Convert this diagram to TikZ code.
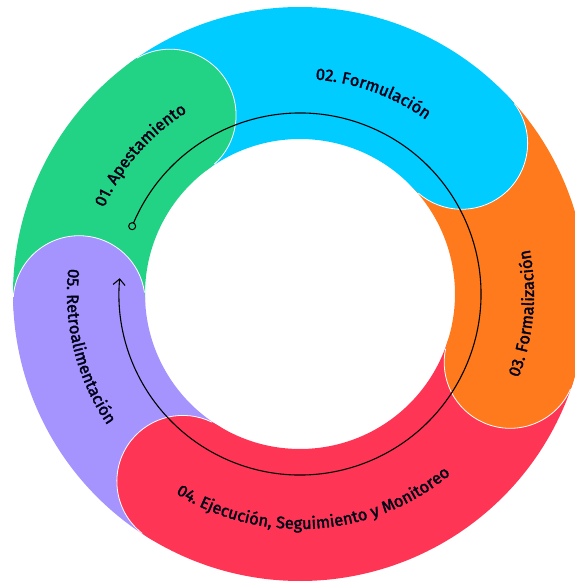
\documentclass[tikz,border=0pt]{standalone}
\usepackage{fontspec}
\setmainfont{Fira Sans}
\newfontfamily\lblfont[FakeBold=2]{Fira Sans}
\usetikzlibrary{arrows.meta,decorations.text,calc}

\definecolor{stepA}{HTML}{23D385}
\definecolor{stepB}{HTML}{00CCFF}
\definecolor{stepC}{HTML}{FF7A1C}
\definecolor{stepD}{HTML}{FF3556}
\definecolor{stepE}{HTML}{A594FD}
\colorlet{lbltext}{black!90!blue}

\tikzset{
  lbl/.style={decorate, decoration={text along path, text align=center, text color=lbltext}},
  cycarrow/.style={line width=1.1pt, -{Straight Barb[length=6pt,width=12pt]}},
}
\newcommand{\lblsize}{\lblfont\fontsize{16.5}{18}\selectfont}

\begin{document}
\begin{tikzpicture}[x=1pt,y=1pt]
    \useasboundingbox (-300,-288) rectangle (275,294);
    \clip (-300,-288) rectangle (275,294);
    % ring pieces
    \foreach \st/\en/\col in {182/126/stepA,126/43/stepB,43/-18/stepC,-18/-122/stepD,-122/-178/stepE}{%
      \fill[\col] (\st:287) arc[start angle=\st, end angle=\en, radius=287]
        -- (\en:155) arc[start angle=\en, end angle=\st, radius=155] -- cycle;}
    % round ends
    \foreach \en/\col in {126/stepA,43/stepB,-18/stepC,-122/stepD,-178/stepE}{%
      \fill[\col] (\en:221) circle[radius=66];
      \draw[white, line width=0.8pt] ($(\en:221)+(\en-6:66)$) arc[start angle=\en-6, delta angle=-168, radius=66];}
    % labels
    \path[lbl, decoration={text={|\lblsize|01. Apestamiento}}]
      (175:214) arc[start angle=175, end angle=103, radius=214];
    \path[lbl, decoration={text={|\lblsize|02. Formulación}}]
      (110:215) arc[start angle=110, end angle=30, radius=215];
    \path[lbl, decoration={text={|\lblsize|03. Formalización}}]
      (-45:234) arc[start angle=-45, end angle=35, radius=234];
    \path[lbl, decoration={text={|\lblsize|04. Ejecución, Seguimiento y Monitoreo}}]
      (-136:235) arc[start angle=-136, end angle=-36, radius=235];
    \path[lbl, decoration={text={|\lblsize|05. Retroalimentación}}]
      (154:233) arc[start angle=154, end angle=234, radius=233];
    % cycle arrow
    \coordinate (start) at (158:181);
    \draw[line width=1pt] (start) circle[radius=3.5];
    \draw[cycarrow] (156.9:181) arc[start angle=156.9, end angle=-185, radius=181];
\end{tikzpicture}
\end{document}
